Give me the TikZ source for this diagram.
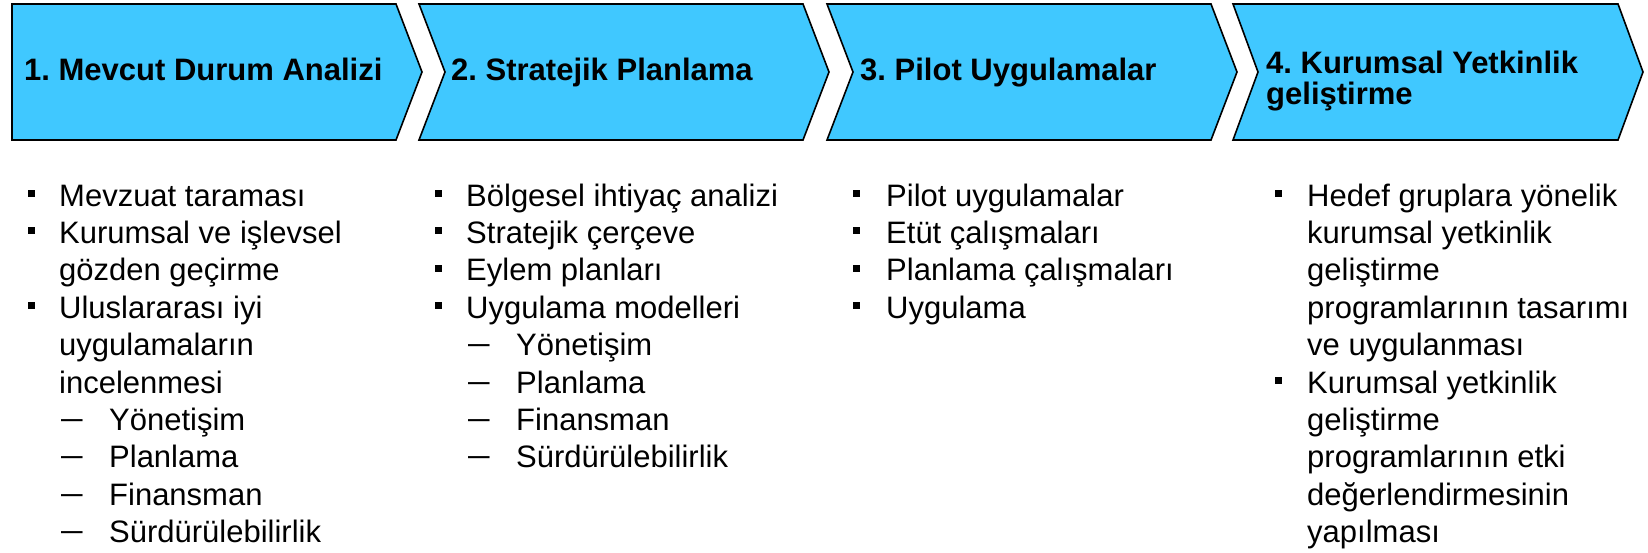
\documentclass[tikz,border=0pt]{standalone}
\usepackage{fontspec}
\setmainfont{Liberation Sans}
\definecolor{chev}{RGB}{64,200,255}
\frenchspacing
\newcommand\subdash{\raisebox{2pt}{\scalebox{1.25}[1]{–}}}
\begin{document}
\begin{tikzpicture}[x=1pt,y=-1pt,
  chevron/.style={fill=chev,draw=black,line width=1.6pt,line join=miter},
  title/.style={font=\bfseries\fontsize{31}{31}\selectfont,anchor=base west,inner sep=0pt},
  itemtext/.style={font=\fontsize{31}{37}\selectfont,anchor=base west,inner sep=0pt},
  bul/.style={fill=black,rectangle,minimum size=7pt,inner sep=0pt}]
\useasboundingbox (0,0) rectangle (1648,552);
% chevrons
\draw[chevron] (12,4) -- (396,4) -- (422,72) -- (396,140) -- (12,140) -- cycle;
\draw[chevron] (419,4) -- (803,4) -- (829,72) -- (803,140) -- (419,140) -- (445,72) -- cycle;
\draw[chevron] (827,4) -- (1211,4) -- (1237,72) -- (1211,140) -- (827,140) -- (853,72) -- cycle;
\draw[chevron] (1233,4) -- (1618,4) -- (1643,72) -- (1618,140) -- (1233,140) -- (1258,72) -- cycle;
% titles
\node[title] (t1) at (24,80) {1. Mevcut Durum Analizi};
\node[title] (t2) at (451,80) {2. Stratejik Planlama};
\node[title] (t3) at (860,80) {3. Pilot Uygulamalar};
\node[title] (t4a) at (1266,73) {4. Kurumsal Yetkinlik};
\node[title] (t4b) at (1266,104) {geliştirme};
% column 1
\node[bul] (b1a) at (31.5,193.5) {};
\node[itemtext] (c1l0) at (59,206) {Mevzuat taraması};
\node[bul] (b1b) at (31.5,230.9) {};
\node[itemtext] (c1l1) at (59,243.4) {Kurumsal ve işlevsel};
\node[itemtext] (c1l2) at (59,280.8) {gözden geçirme};
\node[bul] (b1c) at (31.5,305.7) {};
\node[itemtext] (c1l3) at (59,318.2) {Uluslararası iyi};
\node[itemtext] (c1l4) at (59,355.6) {uygulamaların};
\node[itemtext] (c1l5) at (59,393) {incelenmesi};
\node[itemtext] (d1a) at (61,430.4) {\subdash};
\node[itemtext] (c1l6) at (109,430.4) {Yönetişim};
\node[itemtext] (d1b) at (61,467.8) {\subdash};
\node[itemtext] (c1l7) at (109,467.8) {Planlama};
\node[itemtext] (d1c) at (61,505.2) {\subdash};
\node[itemtext] (c1l8) at (109,505.2) {Finansman};
\node[itemtext] (d1d) at (61,542.6) {\subdash};
\node[itemtext] (c1l9) at (109,542.6) {Sürdürülebilirlik};
% column 2
\node[bul] (b2a) at (438.5,193.5) {};
\node[itemtext] (c2l0) at (466,206) {Bölgesel ihtiyaç analizi};
\node[bul] (b2b) at (438.5,230.9) {};
\node[itemtext] (c2l1) at (466,243.4) {Stratejik çerçeve};
\node[bul] (b2c) at (438.5,268.3) {};
\node[itemtext] (c2l2) at (466,280.8) {Eylem planları};
\node[bul] (b2d) at (438.5,305.7) {};
\node[itemtext] (c2l3) at (466,318.2) {Uygulama modelleri};
\node[itemtext] (d2a) at (468,355.6) {\subdash};
\node[itemtext] (c2l4) at (516,355.6) {Yönetişim};
\node[itemtext] (d2b) at (468,393) {\subdash};
\node[itemtext] (c2l5) at (516,393) {Planlama};
\node[itemtext] (d2c) at (468,430.4) {\subdash};
\node[itemtext] (c2l6) at (516,430.4) {Finansman};
\node[itemtext] (d2d) at (468,467.8) {\subdash};
\node[itemtext] (c2l7) at (516,467.8) {Sürdürülebilirlik};
% column 3
\node[bul] (b3a) at (856.5,193.5) {};
\node[itemtext] (c3l0) at (886,206) {Pilot uygulamalar};
\node[bul] (b3b) at (856.5,230.9) {};
\node[itemtext] (c3l1) at (886,243.4) {Etüt çalışmaları};
\node[bul] (b3c) at (856.5,268.3) {};
\node[itemtext] (c3l2) at (886,280.8) {Planlama çalışmaları};
\node[bul] (b3d) at (856.5,305.7) {};
\node[itemtext] (c3l3) at (886,318.2) {Uygulama};
% column 4
\node[bul] (b4a) at (1278.5,193.5) {};
\node[itemtext] (c4l0) at (1307,206) {Hedef gruplara yönelik};
\node[itemtext] (c4l1) at (1307,243.4) {kurumsal yetkinlik};
\node[itemtext] (c4l2) at (1307,280.8) {geliştirme};
\node[itemtext] (c4l3) at (1307,318.2) {programlarının tasarımı};
\node[itemtext] (c4l4) at (1307,355.6) {ve uygulanması};
\node[bul] (b4b) at (1278.5,380.5) {};
\node[itemtext] (c4l5) at (1307,393) {Kurumsal yetkinlik};
\node[itemtext] (c4l6) at (1307,430.4) {geliştirme};
\node[itemtext] (c4l7) at (1307,467.8) {programlarının etki};
\node[itemtext] (c4l8) at (1307,505.2) {değerlendirmesinin};
\node[itemtext] (c4l9) at (1307,542.6) {yapılması};
\end{tikzpicture}
\end{document}
